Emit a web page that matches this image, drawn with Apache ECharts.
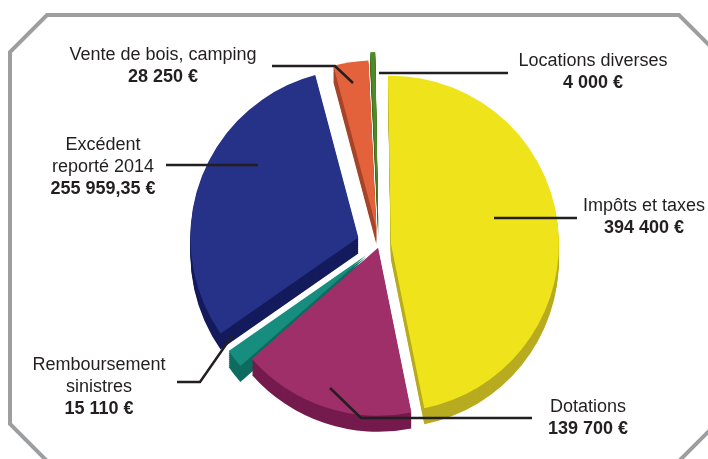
<!DOCTYPE html>
<html>
<head>
<meta charset="utf-8">
<title>Recettes de fonctionnement</title>
<script src="https://cdn.jsdelivr.net/npm/echarts@6/dist/echarts.min.js"></script>
<style>
    html, body { margin: 0; padding: 0; background: #ffffff; }
    #main { width: 708px; height: 459px; }
</style>
</head>
<body>
<div id="main"></div>
<script>
    // données du graphique
    var names = [['Impôts et taxes'], ['Dotations'], ['Remboursement', 'sinistres'], ['Excédent', 'reporté 2014'], ['Vente de bois, camping'], ['Locations diverses']];
    var amounts = ['394 400 €', '139 700 €', '15 110 €', '255 959,35 €', '28 250 €', '4 000 €'];
    var values = [394400, 139700, 15110, 255959.35, 28250, 4000];

    // couleurs (face / côté)
    var topColors = ['#efe31b', '#9e2f69', '#168d7f', '#263287', '#e4623b', '#4f8a27'];
    var sideColors = ['#b8ab20', '#741a4c', '#0d6b5f', '#141b5c', '#a6452a', '#3a6a1c'];

    var chart = echarts.init(document.getElementById('main'));

    var cx = 379, cy = 245, r = 168, depth = 16, startAngle = 91;
    var explode = [12, 3, 16, 22, 17, 25];
    var labelPos = [[644, 217], [588, 418], [99, 387], [103, 167], [163, 66], [593, 72]];
    var linePts = [
        [[494, 218], [577, 218]],
        [[330, 388], [361, 418], [532, 418]],
        [[232, 336], [200, 382], [177, 382]],
        [[258, 165], [166, 165]],
        [[353, 83], [335, 66], [272, 66]],
        [[379, 73], [508, 73]]
    ];

    var total = 0;
    values.forEach(function (v) { total += v; });

    // décalage de chaque part (éclaté)
    var offsets = [];
    var cum = 0;
    values.forEach(function (v, i) {
        var theta = (90 - startAngle + (cum + v / 2) / total * 360) * Math.PI / 180;
        offsets.push([Math.sin(theta) * explode[i], -Math.cos(theta) * explode[i]]);
        cum += v;
    });

    function sliceData(k, colors) {
        return values.map(function (v, i) {
            return {
                value: v,
                name: names[i].join(' '),
                itemStyle: {color: i === k ? colors[i] : 'rgba(0,0,0,0)'}
            };
        });
    }

    function pieSeries(k, colors, dy, z) {
        return {
            type: 'pie',
            silent: true,
            z: z,
            radius: r,
            center: [cx + offsets[k][0], cy + offsets[k][1] + dy],
            startAngle: startAngle,
            avoidLabelOverlap: false,
            label: {show: false},
            labelLine: {show: false},
            itemStyle: {borderWidth: 0},
            data: sliceData(k, colors)
        };
    }

    var series = [];
    // côtés (épaisseur)
    for (var d = depth; d >= 2; d -= 2) {
        for (var k = 0; k < values.length; k++) {
            series.push(pieSeries(k, sideColors, d, 1));
        }
    }
    // faces
    values.forEach(function (v, k) {
        series.push(pieSeries(k, topColors, 0, 2));
    });

    // étiquettes et traits de rappel, au-dessus de tout
    series.push({
        type: 'pie',
        silent: true,
        z: 3,
        radius: r,
        center: [cx, cy],
        startAngle: startAngle,
        avoidLabelOverlap: false,
        itemStyle: {color: 'rgba(0,0,0,0)', borderWidth: 0},
        label: {
            position: 'outside',
            formatter: function (p) {
                var i = p.dataIndex;
                return names[i].map(function (s) { return '{n|' + s + '}'; }).join('\n') + '\n{v|' + amounts[i] + '}';
            },
            rich: {
                n: {fontFamily: 'Liberation Sans', fontSize: 18, color: '#231f20', lineHeight: 22},
                v: {fontFamily: 'Liberation Sans', fontSize: 18, fontWeight: 'bold', color: '#231f20', lineHeight: 22}
            }
        },
        labelLine: {show: true, lineStyle: {color: '#231f20', width: 2.5}},
        labelLayout: function (params) {
            var i = params.dataIndex;
            return {
                x: labelPos[i][0],
                y: labelPos[i][1],
                align: 'center',
                verticalAlign: 'middle',
                labelLinePoints: linePts[i]
            };
        },
        data: values.map(function (v, i) { return {value: v, name: names[i].join(' ')}; })
    });

    var option = {
        animation: false,
        graphic: [{
            type: 'polygon',
            z: 0,
            shape: {points: [[47, 15], [679, 15], [716, 52], [716, 424], [675, 465], [51, 465], [10, 424], [10, 52]]},
            style: {fill: 'none', stroke: '#9d9ea0', lineWidth: 4}
        }],
        series: series
    };
    chart.setOption(option);
</script>
</body>
</html>
